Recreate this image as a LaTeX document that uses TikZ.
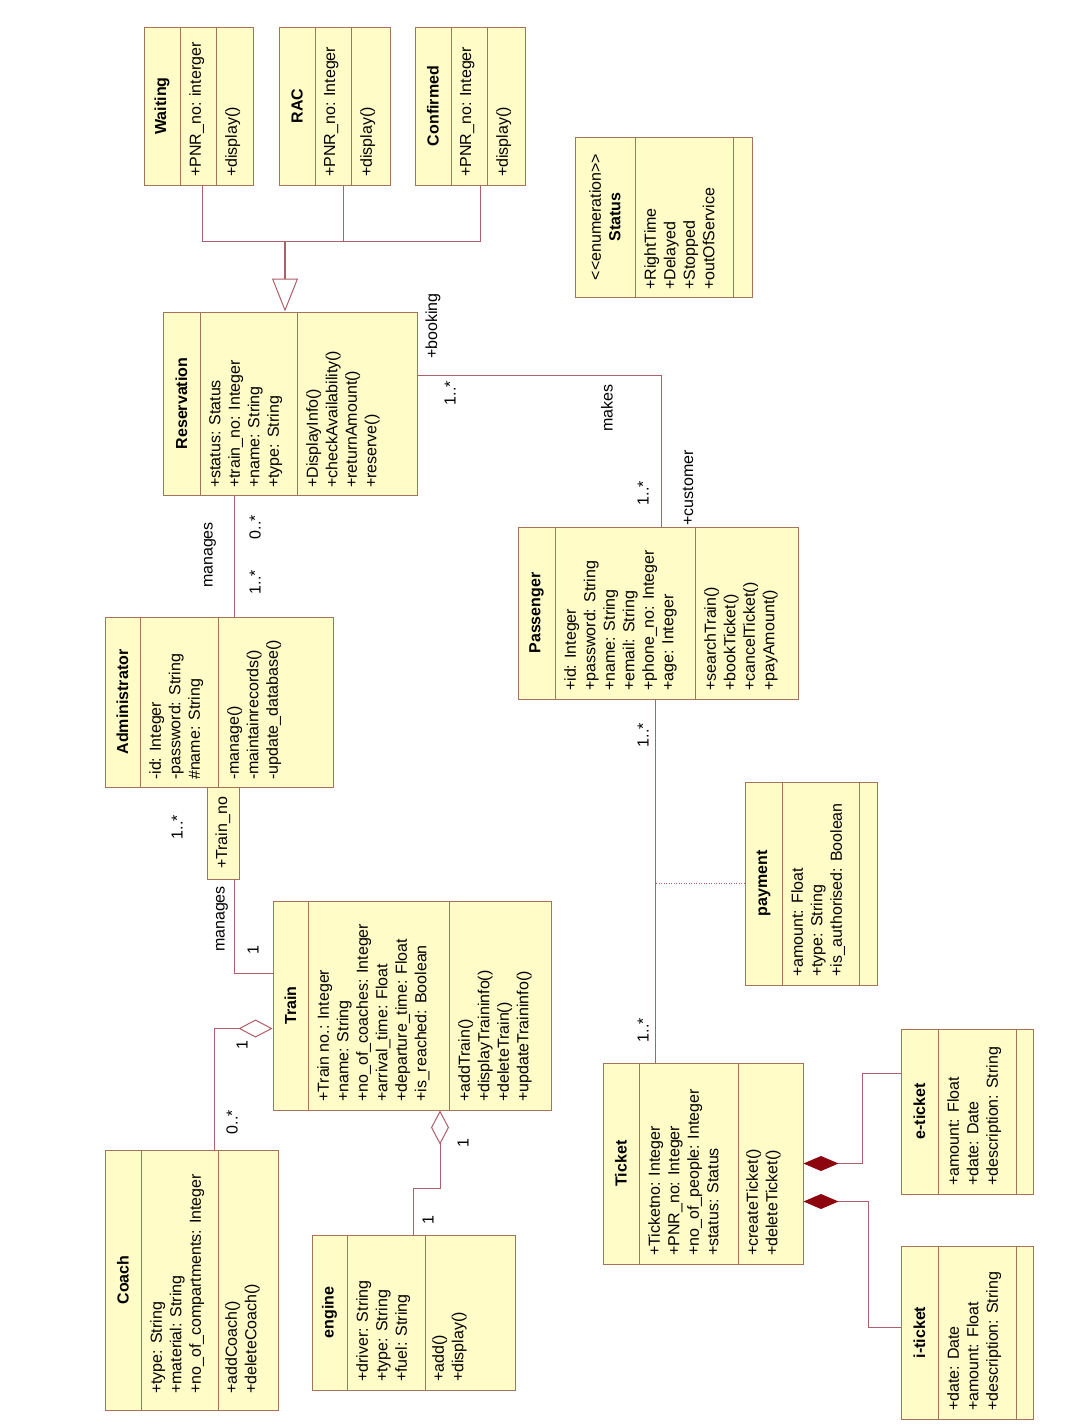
\documentclass[tikz,border=0pt]{standalone}
\usepackage{fontspec}
\setmainfont{Liberation Sans}
\usetikzlibrary{arrows.meta,calc}
\definecolor{boxfill}{RGB}{255,252,200}
\definecolor{boxline}{RGB}{165,115,90}
\definecolor{wirecol}{RGB}{175,95,105}
\definecolor{compfill}{RGB}{140,5,15}
\newcommand\umlfont{\fontsize{16}{19.5}\selectfont}
% class box: name, left, first divider, second divider, right, top, bottom
\newcommand\umlclass[7]{%
  \node[umlbox, minimum width={#5-#2}, minimum height={#7-#6}] (#1) at ({(#2+#5)/2},{(#6+#7)/2}) {};
  \draw[divline] (#1.north -| #3,0) -- (#1.south -| #3,0);
  \draw[divline] (#1.north -| #4,0) -- (#1.south -| #4,0);
}
\begin{document}
\begin{tikzpicture}[x=1pt,y=-1pt,
  umlbox/.style={draw=boxline, fill=boxfill, line width=1pt, inner sep=0pt, rectangle},
  divline/.style={draw=boxline, line width=1pt},
  ctitle/.style={rotate=90, font=\umlfont\bfseries, inner sep=0pt, align=center},
  cbody/.style={rotate=90, anchor=north west, font=\umlfont, inner sep=0pt, align=left},
  wire/.style={draw=wirecol, line width=1pt},
  lbl/.style={rotate=90, font=\umlfont, inner sep=0pt},
  aggr/.style={wire, {Diamond[open, length=34pt, width=18pt, line width=1pt]}-},
  compo/.style={wire, {Diamond[color=compfill, fill=compfill, length=35pt, width=15pt]}-},
  inherit/.style={wire, -{Triangle[open, length=33pt, width=26pt, line width=1pt]}},
]
\useasboundingbox (0,0) rectangle (1080,1428);
\fill[white] (0,0) rectangle (1080,1428);

% ---------- reservation kinds ----------
\umlclass{wait}{144}{180}{216}{253}{27}{185}
\node[ctitle] (wait-t) at (162,106) {Waiting};
\node[cbody] (wait-a) at (189,177) {+PNR\_no: interger};
\node[cbody] (wait-o) at (225,177) {+display()};

\umlclass{rac}{279}{315}{351}{390}{27}{185}
\node[ctitle] (rac-t) at (297,106) {RAC};
\node[cbody] (rac-a) at (324,177) {+PNR\_no: Integer};
\node[cbody] (rac-o) at (360,177) {+display()};

\umlclass{conf}{415}{451}{487}{525}{27}{185}
\node[ctitle] (conf-t) at (433,106) {Confirmed};
\node[cbody] (conf-a) at (460,177) {+PNR\_no: Integer};
\node[cbody] (conf-o) at (496,177) {+display()};

% ---------- Reservation ----------
\umlclass{res}{163}{200}{297}{417}{312}{495}
\node[ctitle] (res-t) at (181.5,403.5) {Reservation};
\node[cbody] (res-a) at (209,488) {+status: Status\\+train\_no: Integer\\+name: String\\+type: String};
\node[cbody] (res-o) at (306,488) {+DisplayInfo()\\+checkAvailability()\\+returnAmount()\\+reserve()};

% ---------- Status enumeration ----------
\umlclass{stat}{575}{635}{733}{752}{137}{297}
\node[ctitle] (stat-t) at (605,217) {{\mdseries <\kern0pt<enumeration>\kern0pt>}\\Status};
\node[cbody] (stat-a) at (644,290) {+RightTime\\+Delayed\\+Stopped\\+outOfService};

% ---------- Administrator ----------
\umlclass{adm}{105}{140}{218}{333}{617}{787}
\node[ctitle] (adm-t) at (122.5,702) {Administrator};
\node[cbody] (adm-a) at (149,780) {-id: Integer\\-password: String\\\#name: String};
\node[cbody] (adm-o) at (227,780) {-manage()\\-maintainrecords()\\-update\_database()};
\node[umlbox, minimum width=32, minimum height=92] (qual) at (223,833) {};
\node[lbl] (qual-t) at (223,833) {+Train\_no};

% ---------- Passenger ----------
\umlclass{pas}{518}{555}{695}{798}{527}{699}
\node[ctitle] (pas-t) at (536.5,613) {Passenger};
\node[cbody] (pas-a) at (564,691) {+id: Integer\\+password: String\\+name: String\\+email: String\\+phone\_no: Integer\\+age: Integer};
\node[cbody] (pas-o) at (704,691) {+searchTrain()\\+bookTicket()\\+cancelTicket()\\+payAmount()};

% ---------- Train ----------
\umlclass{train}{273}{308}{449}{551}{901}{1110}
\node[ctitle] (train-t) at (290.5,1005.5) {Train};
\node[cbody] (train-a) at (317,1102) {+Train no.: Integer\\+name: String\\+no\_of\_coaches: Integer\\+arrival\_time: Float\\+departure\_time: Float\\+is\_reached: Boolean};
\node[cbody] (train-o) at (458,1102) {+addTrain()\\+displayTraininfo()\\+deleteTrain()\\+updateTraininfo()};

% ---------- Coach ----------
\umlclass{coach}{105}{141}{218}{278}{1150}{1410}
\node[ctitle] (coach-t) at (123,1280) {Coach};
\node[cbody] (coach-a) at (150,1394) {+type: String\\+material: String\\+no\_of\_compartments: Integer};
\node[cbody] (coach-o) at (225,1394) {+addCoach()\\+deleteCoach()};

% ---------- engine ----------
\umlclass{eng}{312}{347}{425}{515}{1235}{1390}
\node[ctitle] (eng-t) at (329.5,1312.5) {engine};
\node[cbody] (eng-a) at (356,1382) {+driver: String\\+type: String\\+fuel: String};
\node[cbody] (eng-o) at (432,1382) {+add()\\+display()};

% ---------- payment ----------
\umlclass{pay}{745}{782}{859}{877}{782}{985}
\node[ctitle] (pay-t) at (763.5,883.5) {payment};
\node[cbody] (pay-a) at (791,977) {+amount: Float\\+type: String\\+is\_authorised: Boolean};

% ---------- Ticket ----------
\umlclass{tic}{603}{639}{738}{803}{1063}{1264}
\node[ctitle] (tic-t) at (621,1163.5) {Ticket};
\node[cbody] (tic-a) at (648,1256) {+Ticketno: Integer\\+PNR\_no: Integer\\+no\_of\_people: Integer\\+status: Status};
\node[cbody] (tic-o) at (746,1256) {+createTicket()\\+deleteTicket()};

% ---------- e-ticket / i-ticket ----------
\umlclass{eti}{901}{938}{1016}{1033}{1029}{1194}
\node[ctitle] (eti-t) at (919.5,1111.5) {e-ticket};
\node[cbody] (eti-a) at (947,1186) {+amount: Float\\+date: Date\\+description: String};

\umlclass{iti}{901}{938}{1016}{1033}{1246}{1419}
\node[ctitle] (iti-t) at (919.5,1332.5) {i-ticket};
\node[cbody] (iti-a) at (947,1411) {+date: Date\\+amount: Float\\+description: String};

% ---------- generalisation ----------
\coordinate (gen) at (285,241);
\draw[wire] ([xshift=4]wait.south) |- (gen);
\draw[wire] ([xshift=8.5]rac.south) |- (gen);
\draw[wire] ([xshift=10]conf.south) |- (gen);
\draw[inherit, line width=1.8pt] (gen) -- (gen |- res.north);

% ---------- associations ----------
\draw[wire] ([xshift=15]adm.north) -- ([xshift=15]adm.north |- res.south);
\draw[wire] ([xshift=11]qual.south) |- ([yshift=32]train.west);
\draw[aggr] ([yshift=-23]train.west) -| ([xshift=23]coach.north);
\draw[aggr] ([xshift=28]train.south) -- ++(0,78) -| (eng.north);
\draw[wire] ([yshift=28]res.east) -| ([xshift=3]pas.north);
\draw[wire] ([xshift=-3]pas.south) -- coordinate[pos=0.5] (ptmid) ([xshift=-3]pas.south |- tic.north);
\draw[wire, dash pattern=on 1pt off 1.5pt] (pay.west) -- (pay.west -| ptmid);
\draw[compo] (tic.east) -- ++(59,0) |- ([yshift=38]eti.west);
\draw[compo] ([yshift=-38]tic.east) -- ++(65,0) |- ([yshift=5]iti.west);

% ---------- role names and multiplicities ----------
\node[lbl] (l1) at (433,326) {+booking};
\node[lbl] (l2) at (450,393) {1..*};
\node[lbl] (l3) at (607,408) {makes};
\node[lbl] (l4) at (643,493) {1..*};
\node[lbl] (l5) at (688,488) {+customer};
\node[lbl] (l6) at (210,555) {manages};
\node[lbl] (l7) at (255,527) {0..*};
\node[lbl] (l8) at (255,582) {1..*};
\node[lbl] (l9) at (177,827) {1..*};
\node[lbl] (l10) at (222,919) {manages};
\node[lbl] (l11) at (253,950) {1};
\node[lbl] (l12) at (242,1045) {1};
\node[lbl] (l13) at (232,1122) {0..*};
\node[lbl] (l14) at (463,1143) {1};
\node[lbl] (l15) at (428,1220) {1};
\node[lbl] (l16) at (643,735) {1..*};
\node[lbl] (l17) at (643,1030) {1..*};
\end{tikzpicture}
\end{document}
